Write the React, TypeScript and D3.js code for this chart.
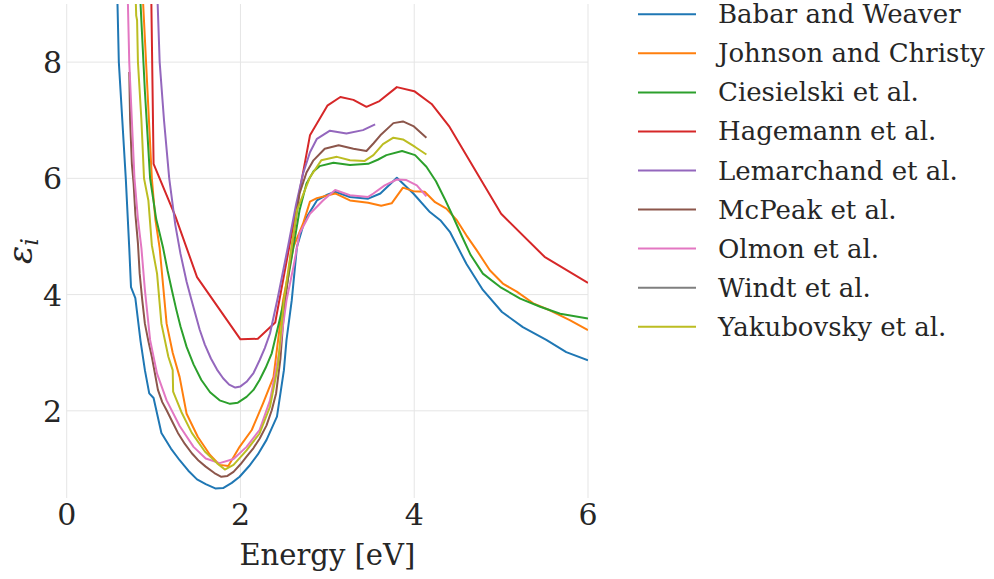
import React, { useEffect, useRef } from 'react';
import * as d3 from 'd3';

// imaginary part of gold permittivity vs photon energy
const babarWeaver = [
  [0.58, 9.3], [0.6, 8.0], [0.64, 7.0], [0.68, 6.0], [0.72, 4.8], [0.74, 4.13], [0.79, 3.94],
  [0.85, 3.2], [0.9, 2.7], [0.95, 2.3], [1.0, 2.22], [1.09, 1.62], [1.2, 1.35], [1.3, 1.15],
  [1.4, 0.97], [1.5, 0.82], [1.6, 0.74], [1.71, 0.665], [1.8, 0.67], [1.9, 0.76], [1.99, 0.865],
  [2.1, 1.05], [2.2, 1.25], [2.3, 1.5], [2.42, 1.9], [2.5, 2.7], [2.53, 3.22], [2.59, 3.9],
  [2.65, 4.82], [2.74, 5.28], [2.88, 5.62], [3.0, 5.72], [3.09, 5.77], [3.26, 5.68], [3.47, 5.65],
  [3.61, 5.74], [3.8, 6.01], [3.99, 5.74], [4.18, 5.42], [4.3, 5.28], [4.41, 5.08], [4.6, 4.53],
  [4.79, 4.08], [5.01, 3.7], [5.25, 3.44], [5.52, 3.22], [5.75, 3.01], [6.0, 2.87],
];
const johnsonChristy = [
  [0.87, 9.3], [0.93, 7.5], [0.98, 6.0], [1.02, 5.3], [1.07, 4.8], [1.15, 3.5], [1.22, 3.0],
  [1.3, 2.58], [1.38, 1.95], [1.51, 1.55], [1.65, 1.24], [1.76, 1.07], [1.86, 1.05], [1.99, 1.38],
  [2.13, 1.67], [2.26, 2.13], [2.38, 2.58], [2.49, 3.9], [2.61, 4.82], [2.72, 5.22], [2.8, 5.6],
  [2.88, 5.66], [3.09, 5.74], [3.26, 5.62], [3.47, 5.58], [3.62, 5.53], [3.74, 5.57], [3.87, 5.84],
  [3.99, 5.78], [4.12, 5.77], [4.24, 5.59], [4.37, 5.48], [4.49, 5.28], [4.6, 5.02], [4.72, 4.76],
  [4.87, 4.42], [5.02, 4.19], [5.18, 4.05], [5.37, 3.85], [5.56, 3.73], [5.79, 3.56], [6.0, 3.39],
];
const ciesielski = [
  [0.84, 9.3], [0.9, 7.5], [0.96, 6.0], [1.03, 5.3], [1.11, 4.8], [1.16, 4.42], [1.21, 4.08],
  [1.26, 3.75], [1.31, 3.45], [1.38, 3.1], [1.46, 2.8], [1.55, 2.53], [1.65, 2.32], [1.76, 2.18],
  [1.88, 2.12], [1.97, 2.14], [2.07, 2.24], [2.15, 2.36], [2.22, 2.53], [2.29, 2.74], [2.36, 2.99],
  [2.45, 3.56], [2.51, 3.95], [2.61, 4.82], [2.68, 5.45], [2.76, 5.91], [2.84, 6.12], [2.91, 6.21],
  [3.07, 6.27], [3.26, 6.23], [3.47, 6.25], [3.58, 6.32], [3.68, 6.4], [3.86, 6.47], [4.01, 6.4],
  [4.14, 6.2], [4.25, 5.95], [4.35, 5.65], [4.45, 5.33], [4.55, 5.0], [4.65, 4.68], [4.79, 4.36],
  [4.99, 4.13], [5.22, 3.93], [5.45, 3.79], [5.68, 3.67], [6.0, 3.59],
];
const hagemann = [
  [0.97, 9.5], [1.0, 6.25], [1.25, 5.35], [1.5, 4.3], [2.0, 3.23], [2.2, 3.24], [2.4, 3.52],
  [2.8, 6.74], [3.0, 7.25], [3.15, 7.4], [3.3, 7.35], [3.45, 7.23], [3.6, 7.33], [3.8, 7.57],
  [4.0, 7.5], [4.2, 7.28], [4.4, 6.9], [5.0, 5.39], [5.5, 4.65], [6.0, 4.2],
];
const lemarchand = [
  [1.04, 9.3], [1.07, 8.0], [1.12, 7.0], [1.18, 6.0], [1.25, 5.2], [1.31, 4.7], [1.38, 4.22],
  [1.43, 3.94], [1.48, 3.67], [1.53, 3.4], [1.59, 3.14], [1.66, 2.9], [1.73, 2.71], [1.8, 2.56],
  [1.87, 2.45], [1.94, 2.4], [2.0, 2.42], [2.07, 2.5], [2.15, 2.65], [2.22, 2.87], [2.28, 3.08],
  [2.34, 3.33], [2.43, 3.95], [2.55, 4.85], [2.64, 5.55], [2.72, 6.08], [2.8, 6.45], [2.88, 6.68],
  [3.03, 6.82], [3.22, 6.77], [3.41, 6.83], [3.55, 6.93],
];
const mcPeak = [
  [0.72, 7.83], [0.73, 7.0], [0.75, 6.25], [0.77, 5.91], [0.79, 5.39], [0.82, 4.88], [0.84, 4.36],
  [0.87, 3.9], [0.9, 3.5], [0.94, 3.2], [0.98, 2.93], [1.05, 2.36], [1.1, 2.15], [1.15, 2.01],
  [1.22, 1.8], [1.28, 1.62], [1.36, 1.43], [1.44, 1.27], [1.52, 1.14], [1.6, 1.04], [1.7, 0.93],
  [1.78, 0.865], [1.85, 0.88], [1.92, 0.95], [2.0, 1.08], [2.07, 1.21], [2.15, 1.36], [2.22, 1.52],
  [2.3, 1.75], [2.36, 2.01], [2.41, 2.3], [2.46, 2.9], [2.5, 3.7], [2.58, 4.7], [2.68, 5.74],
  [2.76, 6.1], [2.84, 6.31], [2.97, 6.51], [3.13, 6.57], [3.3, 6.51], [3.45, 6.47], [3.53, 6.6],
  [3.61, 6.74], [3.76, 6.95], [3.87, 6.98], [3.99, 6.9], [4.14, 6.7],
];
const olmon = [
  [0.7, 9.3], [0.72, 8.0], [0.75, 7.0], [0.78, 6.0], [0.82, 5.3], [0.86, 4.8], [0.9, 4.08],
  [0.96, 3.22], [1.04, 2.64], [1.15, 2.18], [1.3, 1.74], [1.46, 1.38], [1.6, 1.18], [1.76, 1.1],
  [1.92, 1.17], [2.07, 1.38], [2.22, 1.67], [2.34, 2.18], [2.45, 3.04], [2.53, 3.9], [2.61, 4.48],
  [2.68, 5.05], [2.8, 5.39], [2.95, 5.62], [3.09, 5.8], [3.26, 5.71], [3.47, 5.68], [3.53, 5.74],
  [3.66, 5.88], [3.8, 5.98], [3.91, 5.97], [4.03, 5.88], [4.14, 5.69],
];
// Windt et al. only covers energies far above 6 eV, nothing lands inside the axes
const windt: number[][] = [];
const yakubovsky = [
  [0.79, 9.3], [0.8, 8.8], [0.81, 8.72], [0.82, 8.0], [0.86, 7.0], [0.89, 6.0], [0.94, 5.62],
  [0.98, 4.85], [1.04, 4.36], [1.09, 3.5], [1.17, 2.93], [1.22, 2.7], [1.225, 2.33], [1.32, 1.98],
  [1.44, 1.62], [1.59, 1.3], [1.73, 1.1], [1.82, 0.99], [1.92, 1.07], [2.07, 1.32], [2.22, 1.61],
  [2.34, 2.07], [2.43, 2.76], [2.5, 3.9], [2.65, 5.45], [2.8, 6.02], [2.93, 6.31], [3.11, 6.37],
  [3.26, 6.31], [3.43, 6.3], [3.53, 6.4], [3.64, 6.59], [3.76, 6.7], [3.87, 6.67], [4.01, 6.54],
  [4.14, 6.41],
];

const seriesNames = [
  'Babar and Weaver', 'Johnson and Christy', 'Ciesielski et al.', 'Hagemann et al.',
  'Lemarchand et al.', 'McPeak et al.', 'Olmon et al.', 'Windt et al.', 'Yakubovsky et al.',
];
const seriesData = [babarWeaver, johnsonChristy, ciesielski, hagemann, lemarchand, mcPeak, olmon, windt, yakubovsky];
const colors = d3.schemeCategory10.filter((c, i) => i !== 9);

const xTicks = [0, 2, 4, 6];
const yTicks = [2, 4, 6, 8];

export default function App() {
  const svgRef = useRef<SVGSVGElement>(null);
  const width = 994;
  const height = 579;

  useEffect(() => {
    document.body.style.margin = '0';
    const svg = d3.select(svgRef.current);
    svg.selectAll('*').remove();

    const x = d3.scaleLinear().domain([0, 6]).range([66.7, 588]);
    const y = d3.scaleLinear().domain([0.5, 9]).range([498, 4]);
    const font = '"DejaVu Serif", serif';

    svg.append('defs').append('clipPath').attr('id', 'plot-clip')
      .append('rect')
      .attr('x', x(0)).attr('y', y(9))
      .attr('width', x(6) - x(0)).attr('height', y(0.5) - y(9));

    // grid, no spines
    svg.append('g').selectAll('line').data(xTicks).enter().append('line')
      .attr('x1', d => x(d)).attr('x2', d => x(d))
      .attr('y1', y(9)).attr('y2', y(0.5))
      .attr('stroke', '#e5e5e5').attr('stroke-width', 1);
    svg.append('g').selectAll('line').data(yTicks).enter().append('line')
      .attr('x1', x(0)).attr('x2', x(6))
      .attr('y1', d => y(d)).attr('y2', d => y(d))
      .attr('stroke', '#e5e5e5').attr('stroke-width', 1);

    const line = d3.line<number[]>().x(d => x(d[0])).y(d => y(d[1]));

    svg.append('g').attr('clip-path', 'url(#plot-clip)')
      .selectAll('path').data(seriesData).enter().append('path')
      .attr('d', d => (d.length ? line(d) : null))
      .attr('fill', 'none')
      .attr('stroke', (d, i) => colors[i])
      .attr('stroke-width', 2)
      .attr('stroke-linejoin', 'round');

    svg.append('g').selectAll('text').data(xTicks).enter().append('text')
      .attr('x', d => x(d)).attr('y', 525)
      .attr('text-anchor', 'middle')
      .attr('font-family', font).attr('font-size', 30).attr('fill', '#262626')
      .text(d => d);
    svg.append('g').selectAll('text').data(yTicks).enter().append('text')
      .attr('x', 62).attr('y', d => y(d) + 11)
      .attr('text-anchor', 'end')
      .attr('font-family', font).attr('font-size', 30).attr('fill', '#262626')
      .text(d => d);

    svg.append('text')
      .attr('x', (x(0) + x(6)) / 2).attr('y', 565)
      .attr('text-anchor', 'middle')
      .attr('font-family', font).attr('font-size', 29).attr('fill', '#262626')
      .text('Energy [eV]');

    const yLabel = svg.append('text')
      .attr('transform', `translate(32,${(y(9) + y(0.5)) / 2}) rotate(-90)`)
      .attr('text-anchor', 'middle')
      .attr('font-family', font).attr('font-size', 34).attr('fill', '#262626');
    yLabel.append('tspan').attr('font-style', 'italic').text('ε');
    yLabel.append('tspan').attr('font-style', 'italic').attr('font-size', 24).attr('dy', 6).text('i');

    const legend = svg.append('g');
    const rows = legend.selectAll('g').data(seriesNames).enter().append('g')
      .attr('transform', (d, i) => `translate(0,${14.3 + i * 39.05})`);
    rows.append('line')
      .attr('x1', 638).attr('x2', 696)
      .attr('stroke', (d, i) => colors[i]).attr('stroke-width', 2);
    rows.append('text')
      .attr('x', 718).attr('y', 9)
      .attr('font-family', font).attr('font-size', 26).attr('fill', '#262626')
      .text(d => d);
  }, []);

  return <svg ref={svgRef} width={width} height={height} style={{ display: 'block', background: '#fff' }}></svg>;
}
